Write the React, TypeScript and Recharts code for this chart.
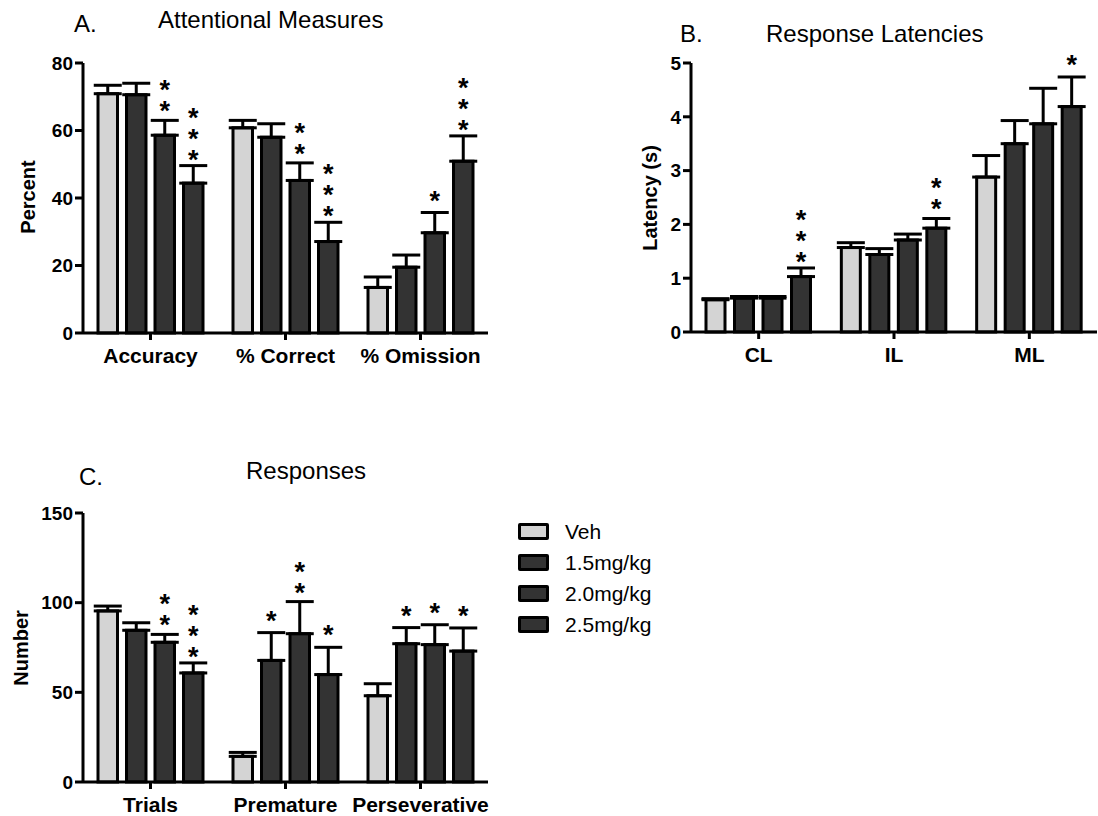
import React from 'react';
import { BarChart, Bar, XAxis, YAxis, ErrorBar } from 'recharts';

// ---------- Data ----------
const seriesKeys = ['veh', 'd15', 'd20', 'd25'];
const seriesNames = ['Veh', '1.5mg/kg', '2.0mg/kg', '2.5mg/kg'];
const seriesFills = ['#d4d4d4', '#333333', '#333333', '#333333'];

// Panel A: Attentional Measures
const catsA = ['Accuracy', '% Correct', '% Omission'];
const vehA = [70.9, 60.8, 13.5];
const d15A = [70.6, 58.0, 19.5];
const d20A = [58.6, 45.2, 29.7];
const d25A = [44.4, 27.1, 50.9];
const vehAErr = [2.5, 2.2, 3.1];
const d15AErr = [3.4, 4.0, 3.6];
const d20AErr = [4.4, 5.2, 6.0];
const d25AErr = [5.2, 5.7, 7.5];
const vehAStars = [0, 0, 0];
const d15AStars = [0, 0, 0];
const d20AStars = [2, 2, 1];
const d25AStars = [3, 3, 3];
const ticksA = [0, 20, 40, 60, 80];

// Panel B: Response Latencies
const catsB = ['CL', 'IL', 'ML'];
const vehB = [0.6, 1.57, 2.88];
const d15B = [0.63, 1.44, 3.5];
const d20B = [0.63, 1.71, 3.87];
const d25B = [1.03, 1.93, 4.19];
const vehBErr = [0.02, 0.09, 0.4];
const d15BErr = [0.03, 0.11, 0.43];
const d20BErr = [0.03, 0.11, 0.66];
const d25BErr = [0.16, 0.18, 0.55];
const vehBStars = [0, 0, 0];
const d15BStars = [0, 0, 0];
const d20BStars = [0, 0, 0];
const d25BStars = [3, 2, 1];
const ticksB = [0, 1, 2, 3, 4, 5];

// Panel C: Responses
const catsC = ['Trials', 'Premature', 'Perseverative'];
const vehC = [95.4, 14.3, 48.1];
const d15C = [84.6, 67.8, 77.1];
const d20C = [77.9, 82.7, 76.6];
const d25C = [60.8, 59.9, 73.0];
const vehCErr = [2.7, 2.2, 6.7];
const d15CErr = [4.2, 15.5, 9.0];
const d20CErr = [4.4, 17.9, 11.1];
const d25CErr = [5.6, 15.2, 12.9];
const vehCStars = [0, 0, 0];
const d15CStars = [0, 1, 1];
const d20CStars = [2, 2, 1];
const d25CStars = [3, 1, 1];
const ticksC = [0, 50, 100, 150];

const buildTable = (
  cats: string[],
  values: number[][],
  errs: number[][],
  stars: number[][]
) =>
  cats.map((cat, i) => {
    const row: any = { cat };
    seriesKeys.forEach((k, s) => {
      row[k] = values[s][i];
      row[k + 'Err'] = [0, errs[s][i]];
      row[k + 'Stars'] = stars[s][i];
    });
    return row;
  });

const dataA = buildTable(catsA, [vehA, d15A, d20A, d25A], [vehAErr, d15AErr, d20AErr, d25AErr], [vehAStars, d15AStars, d20AStars, d25AStars]);
const dataB = buildTable(catsB, [vehB, d15B, d20B, d25B], [vehBErr, d15BErr, d20BErr, d25BErr], [vehBStars, d15BStars, d20BStars, d25BStars]);
const dataC = buildTable(catsC, [vehC, d15C, d20C, d25C], [vehCErr, d15CErr, d20CErr, d25CErr], [vehCStars, d15CStars, d20CStars, d25CStars]);

const FONT = '"Liberation Sans", Arial, Helvetica, sans-serif';
const STAR_FS = 27;
const STAR_PITCH = 18;

const makeShape = (key: string) => (props: any) => {
  const { x, y, width, height, payload, fill } = props;
  const v = payload[key];
  const err = payload[key + 'Err'][1];
  const n = payload[key + 'Stars'];
  const pxPer = v ? height / v : 0;
  const errTop = y - err * pxPer;
  const cx = x + width / 2;
  // vertical stack of asterisks drawn as one upright vertical text run
  const lowestCenter = errTop - 16;
  const topCenter = lowestCenter - (n - 1) * STAR_PITCH;
  const startY = topCenter - 11;
  return (
    <g>
      <rect x={x} y={y} width={width} height={height} fill={fill} stroke="#000" strokeWidth={3} />
      {n > 0 && (
        <text
          x={cx}
          y={startY}
          fontSize={STAR_FS}
          fontWeight="bold"
          fontFamily={FONT}
          fill="#000"
          letterSpacing={STAR_PITCH - STAR_FS}
          style={{ writingMode: 'vertical-rl', textOrientation: 'upright' } as any}
        >
          {'*'.repeat(n)}
        </text>
      )}
    </g>
  );
};

type PanelProps = {
  data: any[];
  width: number;
  height: number;
  margin: { top: number; right: number; bottom: number; left: number };
  domain: [number, number];
  ticks: number[];
  barSize: number;
  barGap: number;
};

const Panel = ({ data, width, height, margin, domain, ticks, barSize, barGap }: PanelProps) => (
  <BarChart
    width={width}
    height={height}
    data={data}
    margin={margin}
    barSize={barSize}
    barGap={barGap}
    style={{ fontFamily: FONT }}
  >
    <XAxis
      dataKey="cat"
      interval={0}
      height={30}
      tickSize={7}
      tickMargin={8}
      axisLine={{ stroke: '#000', strokeWidth: 3 }}
      tickLine={{ stroke: '#000', strokeWidth: 3 }}
      tick={{ fill: '#000', fontSize: 21, fontWeight: 'bold', fontFamily: FONT }}
    />
    <YAxis
      domain={domain}
      ticks={ticks}
      width={40}
      tickSize={8}
      tickMargin={2}
      interval={0}
      axisLine={{ stroke: '#000', strokeWidth: 3 }}
      tickLine={{ stroke: '#000', strokeWidth: 3 }}
      tick={{ fill: '#000', fontSize: 19, fontWeight: 'bold', fontFamily: FONT }}
    />
    {seriesKeys.map((k, s) => (
      <Bar
        key={k}
        dataKey={k}
        name={seriesNames[s]}
        fill={seriesFills[s]}
        isAnimationActive={false}
        shape={makeShape(k)}
      >
        <ErrorBar
          dataKey={k + 'Err'}
          width={14}
          stroke="#000"
          strokeWidth={3}
          direction="y"
          isAnimationActive={false}
        />
      </Bar>
    ))}
  </BarChart>
);

export default function App() {
  return (
    <div
      style={{
        position: 'absolute',
        left: 0,
        top: 0,
        width: 1098,
        height: 816,
        background: '#fff',
        fontFamily: FONT,
        overflow: 'hidden',
      }}
    >
      <div style={{ position: 'absolute', left: 0, top: 0 }}>
        <Panel
          data={dataA}
          width={495}
          height={370}
          margin={{ top: 63, right: 7, bottom: 7, left: 43 }}
          domain={[0, 80]}
          ticks={ticksA}
          barSize={19.5}
          barGap={9}
        />
      </div>
      <div style={{ position: 'absolute', left: 600, top: 0 }}>
        <Panel
          data={dataB}
          width={498}
          height={370}
          margin={{ top: 63, right: 1, bottom: 8, left: 51 }}
          domain={[0, 5]}
          ticks={ticksB}
          barSize={19}
          barGap={9.5}
        />
      </div>
      <div style={{ position: 'absolute', left: 0, top: 460 }}>
        <Panel
          data={dataC}
          width={495}
          height={356}
          margin={{ top: 53, right: 7, bottom: 4, left: 43 }}
          domain={[0, 150]}
          ticks={ticksC}
          barSize={19.5}
          barGap={9}
        />
      </div>

      <svg
        width={1098}
        height={816}
        style={{ position: 'absolute', left: 0, top: 0, pointerEvents: 'none' }}
        fontFamily={FONT}
      >
        <text x={74} y={32} fontSize={24} fill="#000">A.</text>
        <text x={158} y={28} fontSize={24} fill="#000">Attentional Measures</text>
        <text x={680} y={42} fontSize={24} fill="#000">B.</text>
        <text x={766} y={42} fontSize={24} fill="#000">Response Latencies</text>
        <text x={79} y={485} fontSize={24} fill="#000">C.</text>
        <text x={246} y={479} fontSize={24} fill="#000">Responses</text>

        <text x={35} y={197} fontSize={20} fontWeight="bold" textAnchor="middle" transform="rotate(-90 35 197)" fill="#000">Percent</text>
        <text x={657} y={198} fontSize={20} fontWeight="bold" textAnchor="middle" transform="rotate(-90 657 198)" fill="#000">Latency (s)</text>
        <text x={28} y={648} fontSize={20} fontWeight="bold" textAnchor="middle" transform="rotate(-90 28 648)" fill="#000">Number</text>
      </svg>

      <div style={{ position: 'absolute', left: 518, top: 523 }}>
        {seriesNames.map((name, s) => (
          <div key={name} style={{ display: 'flex', alignItems: 'center', height: 17, marginBottom: 14 }}>
            <div
              style={{
                width: 31,
                height: 17,
                boxSizing: 'border-box',
                border: '3px solid #000',
                background: seriesFills[s],
                borderRadius: 2,
              }}
            />
            <span style={{ marginLeft: 16, fontSize: 21, color: '#000', lineHeight: '17px', whiteSpace: 'nowrap' }}>{name}</span>
          </div>
        ))}
      </div>
    </div>
  );
}
